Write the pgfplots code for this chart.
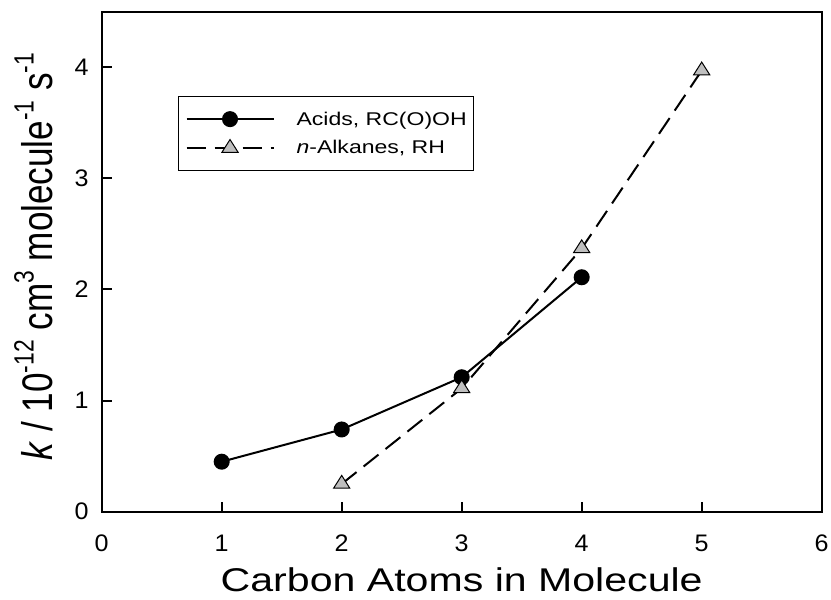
\documentclass[border=0pt]{standalone}
\usepackage{fontspec}
\setmainfont[FakeStretch=1.25]{Liberation Sans}
\newfontfamily\yfont[FakeStretch=0.82]{Liberation Sans}
\newfontfamily\tfont[FakeStretch=1.05]{Liberation Sans}
\usepackage{graphicx}
\usepackage{pgfplots}
\pgfplotsset{compat=1.18}
\newcommand{\sps}[1]{\raisebox{0.45em}{\scalebox{0.65}{#1}}}
\pgfplotsset{mylegimg/.style={legend image code/.code={\draw[mark repeat=2, mark phase=2, ##1] plot coordinates {(0bp,0bp) (43.5bp,0bp) (87bp,0bp)};}}}
\begin{document}
\begin{tikzpicture}
\useasboundingbox (-101.7bp,-88.3bp) rectangle (729.3bp,511.7bp);
\begin{axis}[
  scale only axis, width=720bp, height=500bp,
  xmin=0, xmax=6, ymin=0, ymax=4.5,
  xtick={0,1,2,3,4,5,6}, ytick={0,1,2,3,4},
  axis line style={line width=2bp},
  major tick style={line width=2bp, black},
  major tick length=10bp, tick align=inside,
  xtick pos=bottom, ytick pos=left,
  /pgf/number format/assume math mode=true,
  ticklabel style={font=\tfont\fontsize{24}{28}\selectfont},
  xticklabel style={anchor=base, inner sep=0pt, yshift=-40bp},
  yticklabel style={anchor=east, inner sep=0pt, xshift=-13bp},
  xlabel={Carbon Atoms in Molecule},
  xlabel style={at={(rel axis cs:0.5,0)}, anchor=base, inner sep=0pt, yshift=-79.5bp, font=\fontsize{33}{38}\selectfont},
  ylabel={\textit{k} / 10\sps{-12} cm\sps{3} molecule\sps{-1} s\sps{-1}},
  ylabel style={at={([xshift=-48.7bp]rel axis cs:0,0.51)}, anchor=base, inner sep=0pt, font=\yfont\fontsize{43}{48}\selectfont},
  legend style={at={(rel axis cs:0.106,0.831)}, anchor=north west, draw=black, line width=1bp,
    font=\fontsize{18.5}{21}\selectfont, inner xsep=7bp, inner ysep=15bp,
    nodes={inner sep=0pt}, row sep=13bp,
    /tikz/every odd column/.append style={column sep=22bp}},
  legend cell align=left,
  mylegimg,
]
\addplot[black, line width=2bp, mark=*, mark size=7bp, mark options={solid, fill=black}]
  coordinates {(1,0.45) (2,0.74) (3,1.21) (4,2.11)};
\addlegendentry{Acids, RC(O)OH}
\addplot[black, line width=2bp, dash pattern=on 19bp off 9bp, mark=triangle*, mark size=8.5bp, mark options={solid, fill=gray!50, draw=black, line width=1bp, xscale=1.1}]
  coordinates {(2,0.25) (3,1.11) (4,2.37) (5,3.97)};
\addlegendentry{\textit{n}-Alkanes, RH}
\end{axis}
\end{tikzpicture}
\end{document}
